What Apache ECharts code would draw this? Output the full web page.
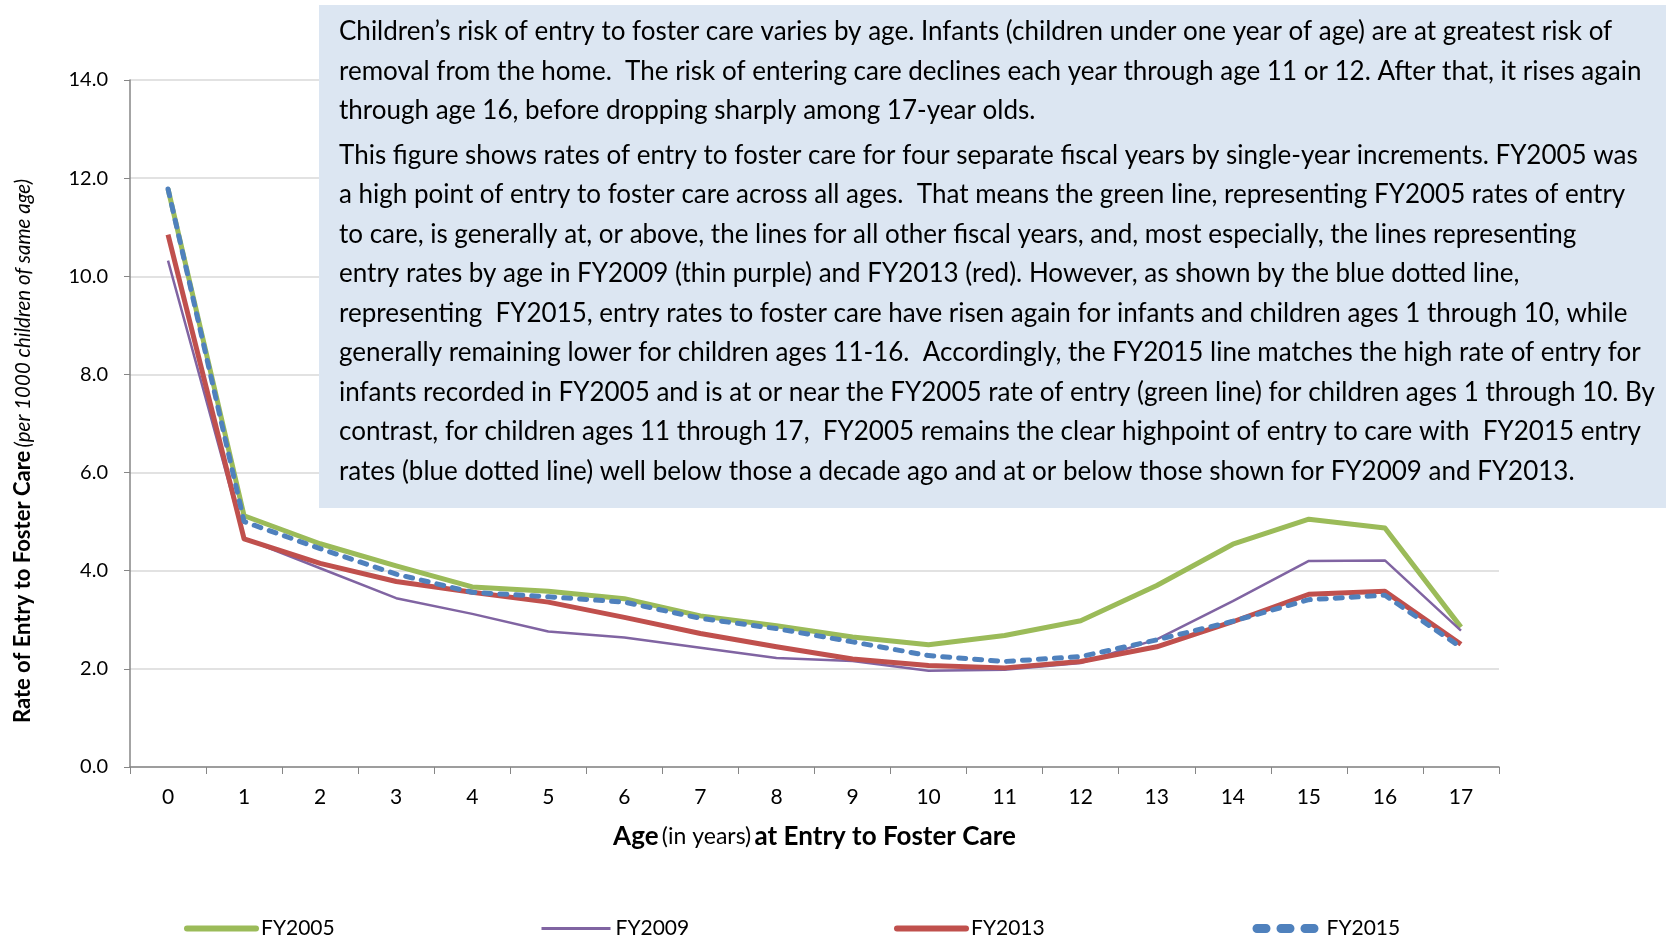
<!DOCTYPE html>
<html><head><meta charset="utf-8">
<script src="https://cdn.jsdelivr.net/npm/echarts@6/dist/echarts.min.js"></script>
<style>html,body{margin:0;padding:0;background:#fff}#c{width:1666px;height:940px}</style>
</head><body><div id="c"></div>
<script>
const ages = ['0','1','2','3','4','5','6','7','8','9','10','11','12','13','14','15','16','17'];
const fy2005 = [11.78, 5.12, 4.55, 4.10, 3.67, 3.58, 3.43, 3.08, 2.88, 2.65, 2.49, 2.68, 2.98, 3.70, 4.54, 5.05, 4.87, 2.85];
const fy2009 = [10.32, 4.66, 4.05, 3.44, 3.12, 2.76, 2.64, 2.43, 2.22, 2.16, 1.96, 1.98, 2.12, 2.60, 3.38, 4.20, 4.21, 2.78];
const fy2013 = [10.85, 4.65, 4.15, 3.78, 3.56, 3.36, 3.05, 2.72, 2.45, 2.20, 2.07, 2.02, 2.15, 2.45, 2.96, 3.52, 3.58, 2.50];
const fy2015 = [11.78, 5.00, 4.45, 3.93, 3.56, 3.47, 3.36, 3.03, 2.82, 2.55, 2.27, 2.15, 2.25, 2.59, 2.97, 3.41, 3.50, 2.44];
const seriesNames = ['FY2005','FY2009','FY2013','FY2015'];
const para1 = [
 'Children\u2019s risk of entry to foster care varies by age. Infants (children under one year of age) are at greatest risk of',
 'removal from the home.  The risk of entering care declines each year through age 11 or 12. After that, it rises again',
 'through age 16, before dropping sharply among 17-year olds.'
];
const para2 = [
 'This figure shows rates of entry to foster care for four separate fiscal years by single-year increments. FY2005 was',
 'a high point of entry to foster care across all ages.  That means the green line, representing FY2005 rates of entry',
 'to care, is generally at, or above, the lines for all other fiscal years, and, most especially, the lines representing',
 'entry rates by age in FY2009 (thin purple) and FY2013 (red). However, as shown by the blue dotted line,',
 'representing  FY2015, entry rates to foster care have risen again for infants and children ages 1 through 10, while',
 'generally remaining lower for children ages 11-16.  Accordingly, the FY2015 line matches the high rate of entry for',
 'infants recorded in FY2005 and is at or near the FY2005 rate of entry (green line) for children ages 1 through 10. By',
 'contrast, for children ages 11 through 17,  FY2005 remains the clear highpoint of entry to care with  FY2015 entry',
 'rates (blue dotted line) well below those a decade ago and at or below those shown for FY2009 and FY2013.'
];

const FONT = 'Lato, "Open Sans", sans-serif';
const colors = ['#9BBB59','#8064A2','#C0504D','#4F81BD'];
const chart = echarts.init(document.getElementById('c'), null, {renderer:'canvas'});
const legendX = [179, 535, 889, 1243];
const legendLine = [
  {width:6, type:'solid', cap:'round'},
  {width:3, type:'solid'},
  {width:6, type:'solid', cap:'round'},
  {width:9, type:[9,15], cap:'round', dashOffset:-4.5}
];
const legends = seriesNames.map((n,i)=>({
  data:[n], left: legendX[i], top: 913, itemWidth: 69, itemHeight: 14, itemGap: 7,
  textStyle:{fontFamily:FONT, fontSize:21, color:'#000'},
  itemStyle:{opacity:0},
  lineStyle: Object.assign({color: colors[i]}, legendLine[i])
}));
chart.setOption({
  animation:false,
  backgroundColor:'#fff',
  legend: legends,
  grid:{left:130, right:167, top:80, bottom:173, containLabel:false},
  xAxis:{
    type:'category', data:ages, boundaryGap:true,
    axisLine:{lineStyle:{color:'#868686', width:1.5}},
    axisTick:{show:true, length:7, lineStyle:{color:'#868686'}},
    axisLabel:{fontFamily:FONT, fontSize:21, color:'#000', margin:20},
    name:'{b|Age} {n|(in years)} {b|at Entry to Foster Care}',
    nameLocation:'middle', nameGap:57,
    nameTextStyle:{rich:{
      b:{fontFamily:FONT, fontWeight:'bold', fontSize:26, color:'#000'},
      n:{fontFamily:FONT, fontSize:23, color:'#000'}
    }}
  },
  yAxis:{
    type:'value', min:0, max:14, interval:2,
    axisLine:{show:true, lineStyle:{color:'#868686', width:1.5}},
    axisTick:{show:true, length:6, lineStyle:{color:'#868686'}},
    axisLabel:{fontFamily:FONT, fontSize:20, color:'#000', margin:22, formatter:v=>v.toFixed(1)},
    splitLine:{lineStyle:{color:'#D9D9D9', width:1.5}}
  },
  graphic:[
    {type:'rect', shape:{x:319, y:5, width:1347, height:503}, style:{fill:'#DCE6F2'}, z:100},
    {type:'text', x:339, y:12, z:101, style:{text:para1.join('\n'), font:'26px '+FONT, fill:'#000', lineHeight:39.5, verticalAlign:'top', align:'left'}},
    {type:'text', x:339, y:135.5, z:101, style:{text:para2.join('\n'), font:'26px '+FONT, fill:'#000', lineHeight:39.5, verticalAlign:'top', align:'left'}},
    {type:'text', x:23, y:451, rotation:Math.PI/2, z:101, style:{
      text:'{b|Rate of Entry to Foster Care} {i|(per 1000 children of same age)}',
      align:'center', verticalAlign:'middle',
      rich:{ b:{fontFamily:FONT, fontWeight:'bold', fontSize:22, fill:'#000'},
             i:{fontFamily:FONT, fontStyle:'italic', fontSize:20.5, fill:'#000'} }
    }}
  ],
  series:[
    {name:seriesNames[0], type:'line', data:fy2005, symbol:'none', lineStyle:{color:colors[0], width:5, join:'round'}, itemStyle:{color:colors[0]}},
    {name:seriesNames[1], type:'line', data:fy2009, symbol:'none', lineStyle:{color:colors[1], width:2.5}, itemStyle:{color:colors[1]}},
    {name:seriesNames[2], type:'line', data:fy2013, symbol:'none', lineStyle:{color:colors[2], width:5, join:'round'}, itemStyle:{color:colors[2]}},
    {name:seriesNames[3], type:'line', data:fy2015, symbol:'none', lineStyle:{color:colors[3], width:5, type:[7,9], cap:'round'}, itemStyle:{color:colors[3]}}
  ]
});
</script></body></html>
